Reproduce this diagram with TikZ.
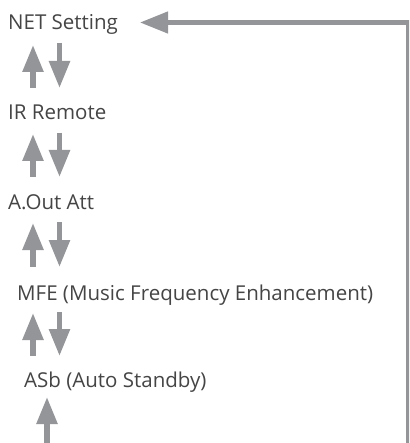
\documentclass[tikz,border=0pt]{standalone}
\usepackage{fontspec}
\setmainfont{Open Sans}
\usetikzlibrary{arrows.meta}
\definecolor{arrgray}{HTML}{939598}
\definecolor{txtgray}{HTML}{454545}
\begin{document}
\begin{tikzpicture}[x=1pt,y=-1pt,
  lbl/.style={anchor=base west,inner sep=0pt,text=txtgray,font=\fontsize{20.5}{24}\selectfont},
  varr/.style={draw=arrgray,line width=5.5pt,-{Triangle[length=27pt,width=20pt,fill=arrgray]}},
  looparr/.style={draw=arrgray,line width=4.5pt,-{Triangle[length=28pt,width=21pt,fill=arrgray]}}]
\clip (0,0) rectangle (409,443);
\fill[white] (0,0) rectangle (409,443);
\node[lbl] (net)  at (8,30)   {NET Setting};
\node[lbl] (ir)   at (8,120)  {IR Remote};
\node[lbl] (aout) at (8,210)  {A.Out Att};
\node[lbl] (mfe)  at (17,300) {MFE (Music Frequency Enhancement)};
\node[lbl] (asb)  at (24,387) {ASb (Auto Standby)};
% pair 1
\coordinate (u1s) at (33,88);   \coordinate (u1e) at (33,45);
\coordinate (d1s) at (59.5,43); \coordinate (d1e) at (59.5,88);
% pair 2
\coordinate (u2s) at (33,177);  \coordinate (u2e) at (33,134);
\coordinate (d2s) at (59.5,133);\coordinate (d2e) at (59.5,177);
% pair 3
\coordinate (u3s) at (33,267);  \coordinate (u3e) at (33,223);
\coordinate (d3s) at (59.5,222);\coordinate (d3e) at (59.5,267);
% pair 4
\coordinate (u4s) at (33,356);  \coordinate (u4e) at (33,313);
\coordinate (d4s) at (59.5,312);\coordinate (d4e) at (59.5,356);
% bottom
\coordinate (u5s) at (47,460);  \coordinate (u5e) at (47,397);
\coordinate (loopbot) at (408.5,460);
\coordinate (looptip) at (140,22.5);
\foreach \i in {1,2,3,4}{
  \draw[varr] (u\i s) -- (u\i e);
  \draw[varr] (d\i s) -- (d\i e);
}
\draw[varr] (u5s) -- (u5e);
\draw[looparr] (loopbot) |- (looptip);
\end{tikzpicture}
\end{document}
